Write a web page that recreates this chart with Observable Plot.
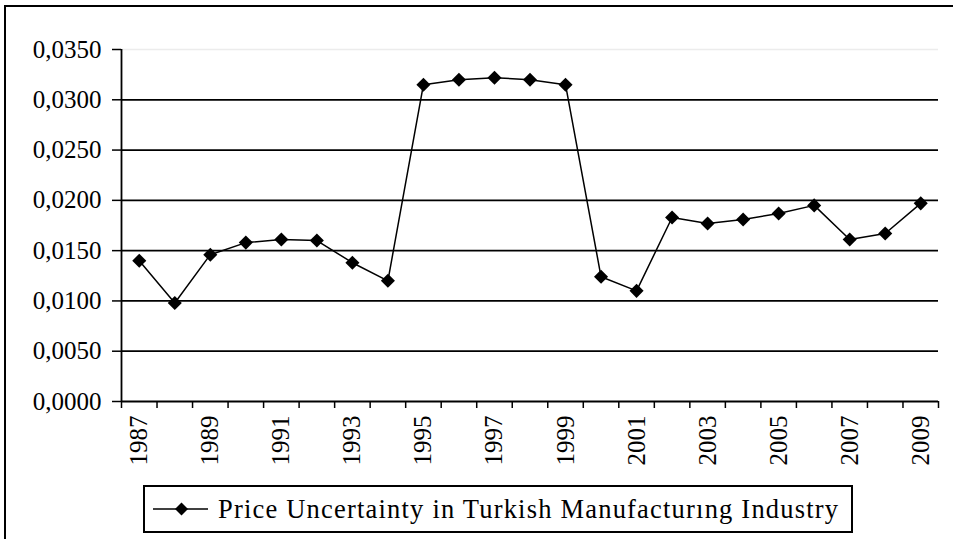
<!DOCTYPE html>
<html>
<head>
<meta charset="utf-8">
<script src="https://cdn.jsdelivr.net/npm/d3@7"></script>
<script src="https://cdn.jsdelivr.net/npm/@observablehq/plot@0.6"></script>
<style>
  html, body { margin: 0; padding: 0; background: #fff; overflow: hidden; }
  #wrap { position: relative; width: 953px; height: 539px; font-family: 'Liberation Serif', serif; }
  #frame { position: absolute; left: 4px; top: 5px; width: 960px; height: 560px; border-left: 2px solid #000; border-top: 2px solid #000; }
  #chart { position: absolute; left: 0; top: 0; }
  #chart svg text { font-family: 'Liberation Serif', serif; }
  #legend { position: absolute; left: 143px; top: 485px; width: 706px; height: 44px; border: 2px solid #000; box-sizing: content-box; display: flex; align-items: center; }
  #legend svg { margin-left: 8px; margin-right: 10px; flex: none; }
  #legend span { font-family: 'Liberation Serif', serif; font-size: 26.5px; letter-spacing: 1.2px; color: #000; white-space: nowrap; }
</style>
</head>
<body>
<div id="wrap">
  <div id="frame"></div>
  <div id="chart"></div>
  <div id="legend"></div>
</div>
<script>
const years = [1987,1988,1989,1990,1991,1992,1993,1994,1995,1996,1997,1998,1999,2000,2001,2002,2003,2004,2005,2006,2007,2008,2009];
const values = [0.0140,0.0098,0.0146,0.0158,0.0161,0.0160,0.0138,0.0120,0.0315,0.0320,0.0322,0.0320,0.0315,0.0124,0.0110,0.0183,0.0177,0.0181,0.0187,0.0195,0.0161,0.0167,0.0197];
const yTicks = [0,0.005,0.010,0.015,0.020,0.025,0.030,0.035];
const labelYears = [1987,1989,1991,1993,1995,1997,1999,2001,2003,2005,2007,2009];
const seriesName = "Price Uncertainty in Turkish Manufacturıng Industry";

const data = years.map((y, i) => ({year: y, value: values[i]}));
const boundaries = d3.range(years[0] - 0.5, years[years.length - 1] + 1, 1);

const diamond = {
  draw(context, size) {
    const h = Math.sqrt(size) * 0.63;
    context.moveTo(0, -h);
    context.lineTo(h, 0);
    context.lineTo(0, h);
    context.lineTo(-h, 0);
    context.closePath();
  }
};

const fmt = d => d.toFixed(4).replace(".", ",");

const chart = Plot.plot({
  width: 953,
  height: 480,
  marginLeft: 121,
  marginRight: 15,
  marginTop: 49,
  marginBottom: 79,
  style: {fontFamily: "'Liberation Serif', serif", fontSize: "25px", color: "#000", background: "transparent"},
  x: {domain: [years[0] - 0.5, years[years.length - 1] + 0.5]},
  y: {domain: [0, 0.035]},
  marks: [
    Plot.ruleY(yTicks.filter(t => t > 0 && t < 0.035), {stroke: "#000", strokeWidth: 1.8}),
    Plot.ruleY([0.035], {stroke: "#ececec", strokeWidth: 1.5}),
    Plot.axisY({ticks: yTicks, tickFormat: fmt, tickSize: 9, tickPadding: 11, fontSize: 25, label: null, strokeWidth: 1.5}),
    Plot.axisX({ticks: boundaries, tickFormat: () => "", tickSize: 7, label: null, strokeWidth: 1.5}),
    Plot.axisX({ticks: labelYears, tickFormat: d => String(d), tickSize: 0, tickPadding: 14, tickRotate: -90, fontSize: 25, label: null}),
    Plot.ruleX([years[0] - 0.5], {y1: 0, y2: 0.035, stroke: "#000", strokeWidth: 1.8}),
    Plot.ruleY([0], {stroke: "#000", strokeWidth: 1.8}),
    Plot.line(data, {x: "year", y: "value", stroke: "#000", strokeWidth: 1.5}),
    Plot.dot(data, {x: "year", y: "value", symbol: diamond, r: 6.3, fill: "#000", stroke: "none"})
  ]
});
document.getElementById("chart").appendChild(chart);

const legend = document.getElementById("legend");
const ns = "http://www.w3.org/2000/svg";
const sw = document.createElementNS(ns, "svg");
sw.setAttribute("width", 55);
sw.setAttribute("height", 20);
const ln = document.createElementNS(ns, "line");
ln.setAttribute("x1", 0); ln.setAttribute("x2", 55); ln.setAttribute("y1", 10); ln.setAttribute("y2", 10);
ln.setAttribute("stroke", "#000"); ln.setAttribute("stroke-width", 1.5);
const dm = document.createElementNS(ns, "path");
dm.setAttribute("d", "M28.5,3.5L35,10L28.5,16.5L22,10Z");
dm.setAttribute("fill", "#000");
sw.appendChild(ln); sw.appendChild(dm);
legend.appendChild(sw);
const txt = document.createElement("span");
txt.textContent = seriesName;
legend.appendChild(txt);
</script>
</body>
</html>
